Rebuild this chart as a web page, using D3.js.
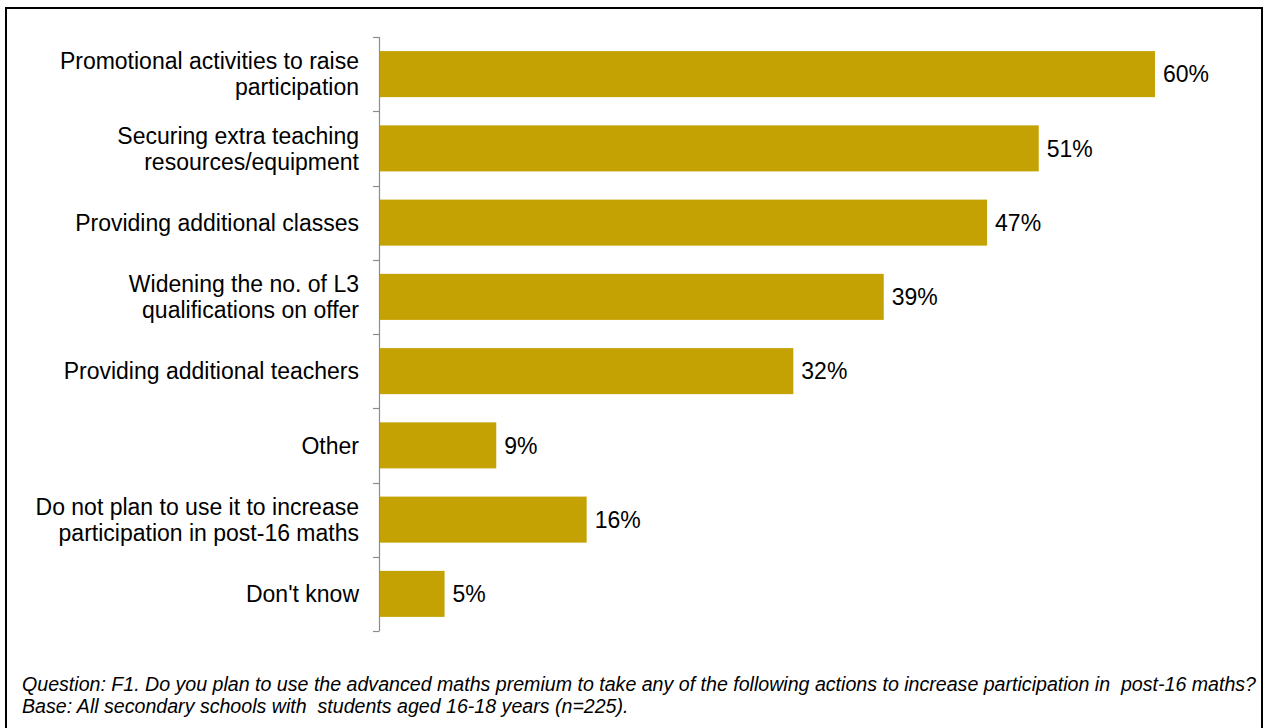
<!DOCTYPE html>
<html>
<head>
<meta charset="utf-8">
<script src="https://cdn.jsdelivr.net/npm/d3@7"></script>
<style>
  html, body { margin: 0; padding: 0; background: #fff; }
  svg { display: block; }
  text.note { white-space: pre; }
</style>
</head>
<body>
<script>
// Planned uses of the advanced maths premium (share of schools)
const categories = [
  ["Promotional activities to raise", "participation"],
  ["Securing extra teaching", "resources/equipment"],
  ["Providing additional classes"],
  ["Widening the no. of L3", "qualifications on offer"],
  ["Providing additional teachers"],
  ["Other"],
  ["Do not plan to use it to increase", "participation in post-16 maths"],
  ["Don't know"]
];
const values = [60, 51, 47, 39, 32, 9, 16, 5];
const footnotes = [
  "Question: F1. Do you plan to use the advanced maths premium to take any of the following actions to increase participation in  post-16 maths?",
  "Base: All secondary schools with  students aged 16-18 years (n=225)."
];

const W = 1264, H = 728;
const svg = d3.select("body").append("svg").attr("width", W).attr("height", H);

// outer frame
svg.append("rect")
  .attr("x", 6).attr("y", 8).attr("width", W - 8).attr("height", H + 10)
  .attr("fill", "none").attr("stroke", "#000").attr("stroke-width", 2);

const keys = categories.map((c, i) => i);
const y = d3.scaleBand().domain(keys).range([37, 631]).paddingInner(0.38).paddingOuter(0.19);
const x = d3.scaleLinear().domain([0, 60]).range([380, 1155]);

// category axis with tick marks between categories
const step = y.step();
const axisG = svg.append("g").attr("stroke", "#8c8c8c").attr("stroke-width", 1.2);
axisG.append("line").attr("x1", 379.5).attr("x2", 379.5).attr("y1", 37).attr("y2", 631);
d3.range(categories.length + 1).forEach(i => {
  const ty = Math.round(37 + i * step) + 0.5;
  axisG.append("line").attr("x1", 373).attr("x2", 379.5).attr("y1", ty).attr("y2", ty);
});

// bars
svg.append("g").selectAll("rect").data(values).join("rect")
  .attr("x", x(0))
  .attr("y", (d, i) => y(i))
  .attr("width", d => x(d) - x(0))
  .attr("height", y.bandwidth())
  .attr("fill", "#c4a204");

const font = "Liberation Sans, Arial, sans-serif";

// value labels
svg.append("g").selectAll("text").data(values).join("text")
  .attr("x", d => x(d) + 8)
  .attr("y", (d, i) => y(i) + y.bandwidth() / 2)
  .attr("dy", "0.36em")
  .attr("font-family", font)
  .attr("font-size", 23)
  .attr("fill", "#000")
  .text(d => d + "%");

// category labels
const lh = 26;
const labG = svg.append("g")
  .attr("font-family", font)
  .attr("font-size", 23)
  .attr("fill", "#000")
  .attr("text-anchor", "end");
categories.forEach((lines, i) => {
  const cy = y(i) + y.bandwidth() / 2;
  const t = labG.append("text").attr("x", 359);
  lines.forEach((ln, j) => {
    t.append("tspan")
      .attr("x", 359)
      .attr("y", cy + (j - (lines.length - 1) / 2) * lh)
      .attr("dy", "0.36em")
      .text(ln);
  });
});

// footnotes (keep the double spaces)
svg.append("g")
  .attr("font-family", font)
  .attr("font-size", 19.6)
  .attr("font-style", "italic")
  .attr("fill", "#000")
  .selectAll("text").data(footnotes).join("text")
  .attr("class", "note")
  .attr("xml:space", "preserve")
  .attr("x", 22)
  .attr("y", (d, i) => 691 + i * 22)
  .text(d => d);
</script>
</body>
</html>
